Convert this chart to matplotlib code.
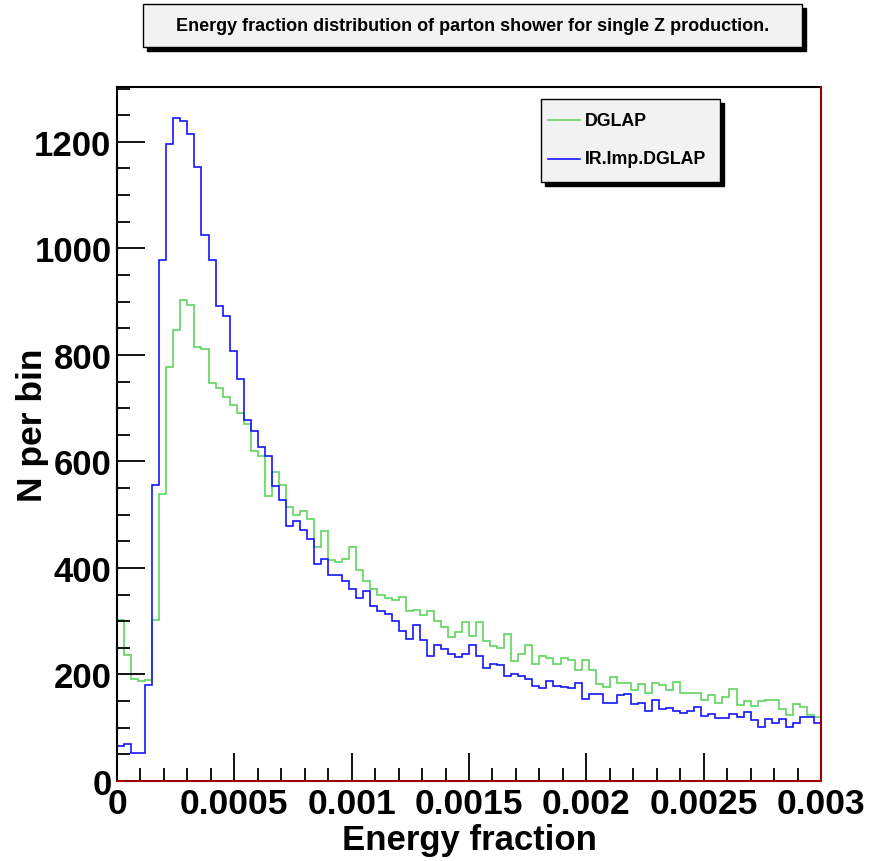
import numpy as np
import matplotlib
matplotlib.use("Agg")
import matplotlib.pyplot as plt
from matplotlib.patches import Rectangle
from matplotlib.lines import Line2D

plt.rcParams['font.family'] = ['Liberation Sans', 'DejaVu Sans']
plt.rcParams['font.weight'] = 'bold'

# histogram binning: 100 bins over [0, 0.003]
x_min, x_max, n_bins = 0.0, 0.003, 100

# DGLAP (green)
dglap = [302, 236, 192, 187, 190, 302, 538, 777, 847, 903,
         893, 815, 811, 747, 738, 721, 706, 691, 670, 619,
         611, 535, 581, 555, 514, 499, 506, 491, 440, 469,
         414, 412, 416, 440, 397, 376, 360, 349, 343, 340,
         346, 320, 321, 311, 320, 301, 289, 270, 280, 298,
         273, 298, 263, 253, 250, 276, 226, 239, 255, 219,
         234, 230, 219, 230, 227, 209, 227, 208, 182, 176,
         196, 184, 184, 171, 182, 166, 184, 180, 170, 185,
         165, 165, 166, 152, 161, 146, 157, 172, 142, 150,
         140, 151, 153, 153, 135, 123, 144, 138, 123, 121]

# IR.Imp.DGLAP (blue)
ir_imp = [65, 69, 52, 52, 181, 555, 979, 1196, 1244, 1240,
          1215, 1152, 1026, 978, 892, 873, 808, 755, 677, 658,
          628, 611, 553, 528, 479, 488, 471, 455, 407, 416,
          387, 387, 375, 361, 344, 356, 328, 319, 313, 301,
          281, 267, 292, 264, 235, 256, 247, 239, 232, 238,
          256, 234, 213, 220, 217, 198, 201, 198, 191, 178,
          174, 188, 179, 177, 174, 184, 154, 164, 164, 146,
          146, 162, 164, 145, 147, 132, 153, 136, 137, 131,
          128, 131, 138, 122, 125, 119, 119, 125, 120, 129,
          115, 101, 116, 109, 116, 102, 108, 120, 120, 108]

x_ticks = [0, 0.0005, 0.001, 0.0015, 0.002, 0.0025, 0.003]
x_tick_labels = ['0', '0.0005', '0.001', '0.0015', '0.002', '0.0025', '0.003']
y_ticks = [0, 200, 400, 600, 800, 1000, 1200]

edges = np.linspace(x_min, x_max, n_bins + 1)

fig = plt.figure(figsize=(8.71, 8.62), dpi=100)
ax = fig.add_axes([117 / 871, 1 - 782 / 862, 704 / 871, 694 / 862])

ax.stairs(dglap, edges, color='#5fd65f', lw=1.2)
ax.stairs(ir_imp, edges, color='#1515ff', lw=1.2)

ax.set_xlim(x_min, x_max)
ax.set_ylim(0, 1303)

ax.set_xticks(x_ticks)
ax.set_xticklabels(x_tick_labels)
ax.set_xticks(np.arange(0, 0.0030001, 0.0001), minor=True)
ax.set_yticks(y_ticks)
ax.set_yticks(np.arange(0, 1301, 50), minor=True)

ax.tick_params(axis='both', which='both', direction='in', top=False, right=False,
               width=1.3, color='black')
ax.tick_params(axis='both', which='major', length=20)
ax.tick_params(axis='both', which='minor', length=9.5)
ax.tick_params(axis='x', which='major', labelsize=25.5, pad=4)
ax.tick_params(axis='y', which='major', labelsize=25, pad=4)
for lbl in ax.get_xticklabels() + ax.get_yticklabels():
    lbl.set_fontweight('bold')

for s in ax.spines.values():
    s.set_linewidth(1.5)
    s.set_color('black')
# red frame line on bottom and right edge as in the original
ax.axhline(0, color='#c00000', lw=1.2, clip_on=False, zorder=5)
ax.axvline(x_max, color='#c00000', lw=1.2, clip_on=False, zorder=5)

ax.set_xlabel('Energy fraction', fontsize=25, fontweight='bold', va='top')
ax.xaxis.set_label_coords(0.5, -0.061)
ax.set_ylabel('N per bin', fontsize=25.5, fontweight='bold')
ax.yaxis.set_label_coords(-0.097, 0.514)

# title box with shadow
tb = (143 / 871, 1 - 48 / 862, 659 / 871, 43 / 862)
sh = 4
fig.patches.append(Rectangle((tb[0] + sh / 871, tb[1] - sh / 862), tb[2], tb[3],
                             transform=fig.transFigure, facecolor='black',
                             edgecolor='black', zorder=1))
fig.patches.append(Rectangle((tb[0], tb[1]), tb[2], tb[3], transform=fig.transFigure,
                             facecolor='#f2f2f2', edgecolor='black', lw=1, zorder=2))
fig.text(tb[0] + tb[2] / 2, tb[1] + tb[3] / 2,
         'Energy fraction distribution of parton shower for single Z production.',
         ha='center', va='center', fontsize=13, fontweight='bold', zorder=3)

# legend box with shadow
lb = (541 / 871, 1 - 183 / 862, 179 / 871, 83 / 862)
fig.patches.append(Rectangle((lb[0] + sh / 871, lb[1] - sh / 862), lb[2], lb[3],
                             transform=fig.transFigure, facecolor='black',
                             edgecolor='black', zorder=6))
fig.patches.append(Rectangle((lb[0], lb[1]), lb[2], lb[3], transform=fig.transFigure,
                             facecolor='#f2f2f2', edgecolor='black', lw=1, zorder=7))
for yy, col, name in [(121, '#5fd65f', 'DGLAP'), (160, '#1515ff', 'IR.Imp.DGLAP')]:
    fy = 1 - yy / 862
    fig.lines.append(Line2D([548 / 871, 580 / 871], [fy, fy], transform=fig.transFigure,
                            color=col, lw=1.2, zorder=8))
    fig.text(585 / 871, fy, name, ha='left', va='center', fontsize=12.8,
             fontweight='bold', zorder=8)

fig.savefig('out.png', dpi=100)
